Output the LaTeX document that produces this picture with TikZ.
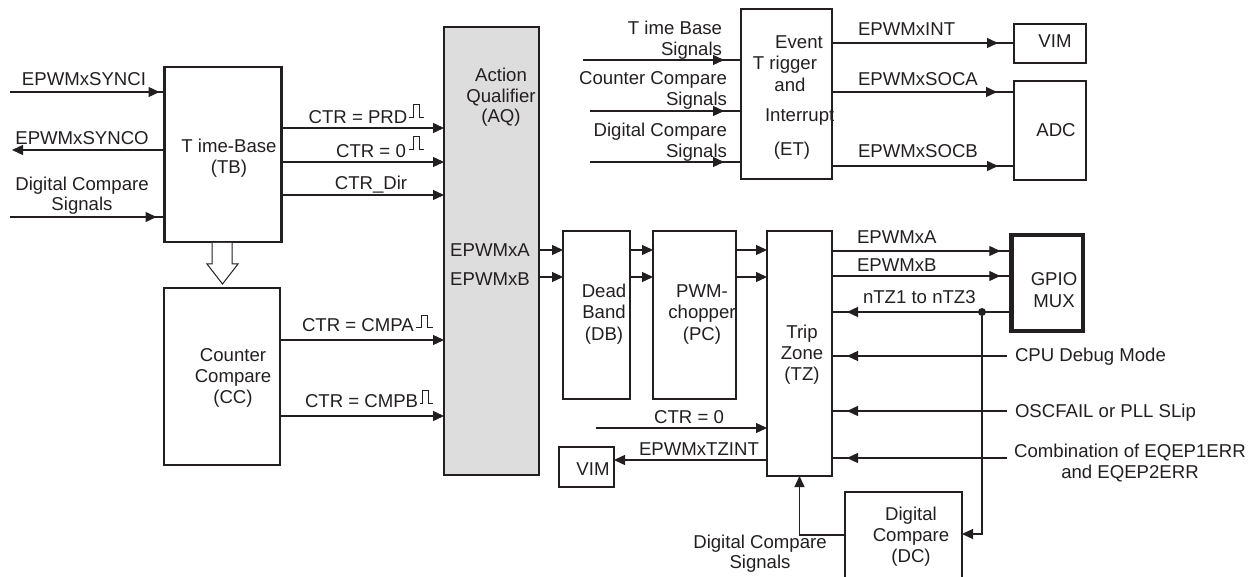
\documentclass[tikz,border=0pt]{standalone}
\usepackage{fontspec}
\setmainfont{Liberation Sans}
\usetikzlibrary{arrows.meta,decorations.markings}
\definecolor{ink}{RGB}{35,31,32}
\definecolor{aqgray}{RGB}{221,221,221}
\begin{document}
\begin{tikzpicture}[x=1pt,y=-1pt,
  every node/.style={font=\fontsize{18.6}{21}\selectfont, text=ink, inner sep=0pt, outer sep=0pt},
  box/.style={draw=ink, line width=2.5pt},
  thinbox/.style={draw=ink, line width=2.2pt},
  lbl/.style={anchor=base, align=center},
  lblw/.style={anchor=base west, align=left},
  lble/.style={anchor=base east, align=right},
  conn/.style={color=ink, line width=1.3pt},
  arr/.style={conn, -{Triangle[length=11pt,width=10pt]}},
  gaparr/.style={conn, postaction={decorate, decoration={markings, mark=at position -#1 with {\arrow{Triangle[length=11pt,width=10pt]}}}}},
  pulse/.style={draw=ink, line width=1pt}]
\useasboundingbox (0,0) rectangle (1255,577);
\clip (0,0) rectangle (1255,577);

% ---------- boxes ----------
\node[box, minimum width=117pt, minimum height=175pt] (tb) at (223,154.5) {};
\node[box, minimum width=116pt, minimum height=177pt] (cc) at (222,376.5) {};
\node[box, fill=aqgray, minimum width=95pt, minimum height=448pt] (aq) at (491.5,251) {};
\node[box, minimum width=91pt, minimum height=170pt] (et) at (786.5,94) {};
\node[thinbox, minimum width=72pt, minimum height=39pt] (vim1) at (1050,43.5) {};
\node[thinbox, minimum width=72pt, minimum height=99pt] (adc) at (1050,130.5) {};
\node[box, minimum width=67pt, minimum height=168pt] (db) at (596.5,315) {};
\node[box, minimum width=83pt, minimum height=168pt] (pc) at (694.5,315) {};
\node[box, minimum width=65pt, minimum height=245pt] (tz) at (799.5,353.5) {};
\node[draw=ink, line width=4.5pt, minimum width=71.5pt, minimum height=95.5pt] (gpio) at (1047,283) {};
\node[thinbox, minimum width=55pt, minimum height=40pt] (vim2) at (586.5,467) {};
\node[box, minimum width=117pt, minimum height=100pt] (dc) at (903.5,542) {};
\node[circle, fill=ink, minimum size=8pt] (dot) at (982,312) {};

% ---------- box labels (anchor = baseline of last line) ----------
\node[lbl] (tbl) at (229,174) {T ime-Base\\(TB)};
\node[lbl] (ccl) at (233,403) {Counter\\Compare\\(CC)};
\node[lbl, font=\fontsize{18.6}{20.5}\selectfont] (aql) at (501,123) {Action\\Qualifier\\(AQ)};
\node[lbl] (aqa) at (490,257) {EPWMxA};
\node[lbl] (aqb) at (490,285) {EPWMxB};
\node[lbl] (et1) at (799,49) {Event};
\node[lbl] (et2) at (785,70) {T rigger};
\node[lbl] (et3) at (790,92) {and};
\node[lblw] (et4) at (765,122) {Interrupt};
\node[lbl] (et5) at (792,156) {(ET)};
\node[lbl] (vim1l) at (1055,48) {VIM};
\node[lbl] (adcl) at (1056,137) {ADC};
\node[lbl, font=\fontsize{18.6}{21.5}\selectfont] (dbl) at (604,340) {Dead\\Band\\(DB)};
\node[lbl, font=\fontsize{18.6}{21.5}\selectfont] (pcl) at (702,340) {PWM-\\chopper\\(PC)};
\node[lbl] (tzl) at (802,380) {Trip\\Zone\\(TZ)};
\node[lbl, font=\fontsize{18.6}{22}\selectfont] (gpiol) at (1054,307) {GPIO\\MUX};
\node[lbl] (vim2l) at (593,475) {VIM};
\node[lbl] (dcl) at (911,562) {Digital\\Compare\\(DC)};

% ---------- left inputs of TB ----------
\coordinate (syi) at (10,92);
\draw[gaparr=5pt] (syi) -- (syi -| tb.west);
\node[lbl] (syil) at (84,86) {EPWMxSYNCI};
\coordinate (syo) at (12,150);
\draw[arr] (syo -| tb.west) -- (syo);
\node[lbl] (syol) at (82,145) {EPWMxSYNCO};
\coordinate (dci) at (10,217);
\draw[gaparr=8pt] (dci) -- (dci -| tb.west);
\node[lbl, font=\fontsize{18.6}{20}\selectfont] (dcil) at (82,211) {Digital Compare\\Signals};

% ---------- TB -> CC hollow arrow ----------
\draw[ink, line width=1pt, fill=white] (212,243) -- (212,264) -- (207,264) -- (222.5,284) -- (238,264) -- (232,264) -- (232,243);

% ---------- TB -> AQ ----------
\draw[arr] (tb.east |- 0,128) -- (aq.west |- 0,128);
\node[lbl] (prdl) at (358,124) {CTR = PRD};
\draw[pulse] (409,118) -- ++(4,0) -- ++(0,-13) -- ++(6,0) -- ++(0,13) -- ++(5,0);
\draw[arr] (tb.east |- 0,162) -- (aq.west |- 0,162);
\node[lbl] (zl) at (371,158) {CTR = 0};
\draw[pulse] (409,150) -- ++(4,0) -- ++(0,-13) -- ++(6,0) -- ++(0,13) -- ++(5,0);
\draw[arr] (tb.east |- 0,195) -- (aq.west |- 0,195);
\node[lbl] (dirl) at (371,190) {CTR\_Dir};

% ---------- CC -> AQ ----------
\draw[arr] (cc.east |- 0,340) -- (aq.west |- 0,340);
\node[lblw] (cmpal) at (302,331) {CTR = CMPA};
\draw[pulse] (416,327) -- ++(5,0) -- ++(0,-12) -- ++(6,0) -- ++(0,12) -- ++(6,0);
\draw[arr] (cc.east |- 0,416) -- (aq.west |- 0,416);
\node[lblw] (cmpbl) at (305,407) {CTR = CMPB};
\draw[pulse] (420,403) -- ++(2,0) -- ++(0,-13) -- ++(6,0) -- ++(0,13) -- ++(5,0);

% ---------- AQ -> DB -> PC -> TZ ----------
\draw[arr] (aq.east |- 0,250) -- (db.west |- 0,250);
\draw[arr] (aq.east |- 0,277) -- (db.west |- 0,277);
\draw[arr] (db.east |- 0,250) -- (pc.west |- 0,250);
\draw[arr] (db.east |- 0,277) -- (pc.west |- 0,277);
\draw[arr] (pc.east |- 0,250) -- (tz.west |- 0,250);
\draw[arr] (pc.east |- 0,277) -- (tz.west |- 0,277);

% ---------- ET inputs ----------
\coordinate (tbs) at (583,60);
\draw[gaparr=17pt] (tbs) -- (tbs -| et.west);
\node[lble] (tbsl) at (722,56) {T ime Base\\Signals};
\coordinate (ccs) at (590,111);
\draw[gaparr=17pt] (ccs) -- (ccs -| et.west);
\node[lble] (ccsl) at (727,106) {Counter Compare\\Signals};
\coordinate (dcs) at (590,162);
\draw[gaparr=17pt] (dcs) -- (dcs -| et.west);
\node[lble] (dcsl) at (727,158) {Digital Compare\\Signals};

% ---------- ET outputs ----------
\draw[gaparr=16pt] (et.east |- 0,43) -- (vim1.west |- 0,43);
\node[lblw] (intl) at (858,36) {EPWMxINT};
\draw[gaparr=17pt] (et.east |- 0,92) -- (adc.west |- 0,92);
\node[lblw] (socal) at (858,86) {EPWMxSOCA};
\draw[gaparr=16pt] (et.east |- 0,166) -- (adc.west |- 0,166);
\node[lblw] (socbl) at (858,158) {EPWMxSOCB};

% ---------- TZ right side ----------
\draw[gaparr=11pt] (tz.east |- 0,251) -- (gpio.west |- 0,251);
\node[lblw] (tzal) at (857,244) {EPWMxA};
\draw[gaparr=11pt] (tz.east |- 0,276) -- (gpio.west |- 0,276);
\node[lblw] (tzbl) at (857,272) {EPWMxB};
\draw[gaparr=15pt] (gpio.west |- 0,312) -- (tz.east |- 0,312);
\node[lblw] (ntzl) at (863,303) {nTZ1 to nTZ3};
\coordinate (cpu) at (1007,356);
\draw[gaparr=15pt] (cpu) -- (cpu -| tz.east);
\node[lblw] (cpul) at (1015,361) {CPU Debug Mode};
\coordinate (osc) at (1007,411);
\draw[gaparr=15pt] (osc) -- (osc -| tz.east);
\node[lblw] (oscl) at (1015,417) {OSCFAIL or PLL SLip};
\coordinate (eqp) at (1007,458);
\draw[gaparr=15pt] (eqp) -- (eqp -| tz.east);
\node[lbl] (eqpl) at (1130,478) {Combination of EQEP1ERR\\and EQEP2ERR};
\draw[arr] (dot) |- (dc.east |- 0,534);

% ---------- TZ left / bottom ----------
\coordinate (ctz) at (596,428);
\draw[arr] (ctz) -- (ctz -| tz.west);
\node[lbl] (ctzl) at (689,423) {CTR = 0};
\draw[arr] (tz.west |- 0,460) -- (vim2.east |- 0,460);
\node[lbl] (tzintl) at (699,455) {EPWMxTZINT};
\draw[arr] (dc.west |- 0,535) -| (tz.south);
\node[lbl, font=\fontsize{18.6}{20}\selectfont] (dcbl) at (760,568) {Digital Compare\\Signals};
\end{tikzpicture}
\end{document}
